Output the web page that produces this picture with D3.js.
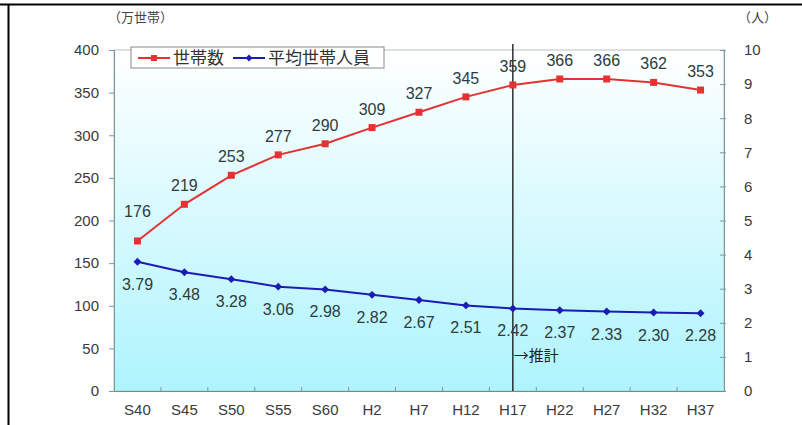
<!DOCTYPE html>
<html><head><meta charset="utf-8">
<script src="https://cdn.jsdelivr.net/npm/d3@7"></script>
<style>body{margin:0;background:#fff}svg{display:block}</style>
</head><body>
<svg id="c" width="802" height="425"></svg>
<script>
const categories = ["S40","S45","S50","S55","S60","H2","H7","H12","H17","H22","H27","H32","H37"];
const households = [176,219,253,277,290,309,327,345,359,366,366,362,353];
const avgMembers = [3.79,3.48,3.28,3.06,2.98,2.82,2.67,2.51,2.42,2.37,2.33,2.30,2.28];
const leftTicks = [0,50,100,150,200,250,300,350,400];
const rightTicks = [0,1,2,3,4,5,6,7,8,9,10];
const seriesNames = ["世帯数","平均世帯人員"];
const estimateStart = "H17";

const svg = d3.select("#c");
const m = {l:114, r:724, t:50, b:391};
const x = d3.scaleBand().domain(categories).range([m.l, m.r]);
const xc = c => x(c) + x.bandwidth()/2;
const yL = d3.scaleLinear().domain([0,400]).range([m.b, m.t]);
const yR = d3.scaleLinear().domain([0,10]).range([m.b, m.t]);

// frame lines
svg.append("line").attr("x1",0).attr("x2",802).attr("y1",4.5).attr("y2",4.5).attr("stroke","#000").attr("stroke-width",2);
svg.append("line").attr("x1",8.5).attr("x2",8.5).attr("y1",4).attr("y2",425).attr("stroke","#000").attr("stroke-width",2);

const defs = svg.append("defs");
const g = defs.append("linearGradient").attr("id","bg").attr("x1",0).attr("y1",0).attr("x2",0).attr("y2",1);
g.append("stop").attr("offset","0%").attr("stop-color","#ffffff");
g.append("stop").attr("offset","100%").attr("stop-color","#aef4fd");

svg.append("rect").attr("x",m.l).attr("y",m.t).attr("width",m.r-m.l).attr("height",m.b-m.t)
  .attr("fill","url(#bg)").attr("stroke","#b8c4c4");

const tickFont = "Liberation Sans, Arial, sans-serif";
const axL = svg.append("g").attr("transform",`translate(${m.l},0)`)
  .call(d3.axisLeft(yL).tickValues(leftTicks).tickSize(5).tickPadding(10));
const axR = svg.append("g").attr("transform",`translate(${m.r},0)`)
  .call(d3.axisRight(yR).tickValues(rightTicks).tickSize(0).tickPadding(20));
axR.selectAll(".tick").append("line").attr("x1",-4).attr("x2",2).attr("stroke","#7a9a9a");
const axB = svg.append("g").attr("transform",`translate(0,${m.b})`)
  .call(d3.axisBottom(x).tickSize(0).tickPadding(13));
axB.selectAll(".bnd").data(categories.slice(1)).enter().append("line")
  .attr("x1",d=>x(d)).attr("x2",d=>x(d)).attr("y1",-4).attr("y2",0).attr("stroke","#7a9a9a");

[axL,axR,axB].forEach(a=>{
  a.select(".domain").attr("stroke","#7a9a9a");
  a.selectAll(".tick line").attr("stroke","#7a9a9a");
  a.selectAll("text").attr("font-family",tickFont).attr("font-size",15).attr("fill","#3a3a3a");
});
axB.select(".domain").attr("stroke","#6f8f8f");

svg.append("text").attr("x",108).attr("y",22).text("（万世帯）")
  .attr("font-family","Noto Sans CJK JP, sans-serif").attr("font-size",13).attr("fill","#444");
svg.append("text").attr("x",738).attr("y",22).text("（人）")
  .attr("font-family","Noto Sans CJK JP, sans-serif").attr("font-size",13).attr("fill","#444");

const ex = x(estimateStart) + x.bandwidth()/2;
svg.append("line").attr("x1",ex).attr("x2",ex).attr("y1",m.t-6).attr("y2",m.b).attr("stroke","#111").attr("stroke-width",1.3);
svg.append("text").attr("x",ex+1).attr("y",361).text("→推計")
  .attr("font-family","Noto Sans CJK JP, sans-serif").attr("font-size",15).attr("fill","#222");

const red = "#e23232", blue = "#1c1cb4";
svg.append("path").datum(households).attr("fill","none").attr("stroke",red).attr("stroke-width",2)
  .attr("d", d3.line().x((d,i)=>xc(categories[i])).y(d=>yL(d)));
svg.append("path").datum(avgMembers).attr("fill","none").attr("stroke",blue).attr("stroke-width",2)
  .attr("d", d3.line().x((d,i)=>xc(categories[i])).y(d=>yR(d)));

svg.selectAll(".rm").data(households).enter().append("rect")
  .attr("x",(d,i)=>xc(categories[i])-3.5).attr("y",d=>yL(d)-3.5).attr("width",7).attr("height",7).attr("fill",red);
svg.selectAll(".bm").data(avgMembers).enter().append("path")
  .attr("d", d3.symbol(d3.symbolDiamond2,40)())
  .attr("transform",(d,i)=>`translate(${xc(categories[i])},${yR(d)})`).attr("fill",blue);

const lblFont = "Liberation Sans, Arial, sans-serif";
svg.selectAll(".rl").data(households).enter().append("text")
  .attr("x",(d,i)=>xc(categories[i])).attr("y",(d,i)=>yL(d)-(i===0?24:13))
  .attr("text-anchor","middle").attr("font-family",lblFont).attr("font-size",16).attr("fill","#2f3b3b").text(d=>d);
svg.selectAll(".bl").data(avgMembers).enter().append("text")
  .attr("x",(d,i)=>xc(categories[i])).attr("y",d=>yR(d)+28)
  .attr("text-anchor","middle").attr("font-family",lblFont).attr("font-size",16).attr("fill","#2f3b3b").text(d=>d.toFixed(2));

// legend
const lg = svg.append("g");
lg.append("rect").attr("x",131).attr("y",47).attr("width",253).attr("height",21).attr("fill","#fff").attr("stroke","#888");
const items = [{n:seriesNames[0],c:red,s:"sq",x:138},{n:seriesNames[1],c:blue,s:"di",x:233}];
items.forEach(it=>{
  lg.append("line").attr("x1",it.x).attr("x2",it.x+32).attr("y1",58).attr("y2",58).attr("stroke",it.c).attr("stroke-width",2);
  if(it.s==="sq") lg.append("rect").attr("x",it.x+13).attr("y",55).attr("width",6).attr("height",6).attr("fill",it.c);
  else lg.append("path").attr("d",d3.symbol(d3.symbolDiamond2,30)()).attr("transform",`translate(${it.x+16},58)`).attr("fill",it.c);
  lg.append("text").attr("x",it.x+35).attr("y",64).text(it.n)
    .attr("font-family","Noto Sans CJK JP, sans-serif").attr("font-size",17).attr("fill","#333");
});
</script>
</body></html>
